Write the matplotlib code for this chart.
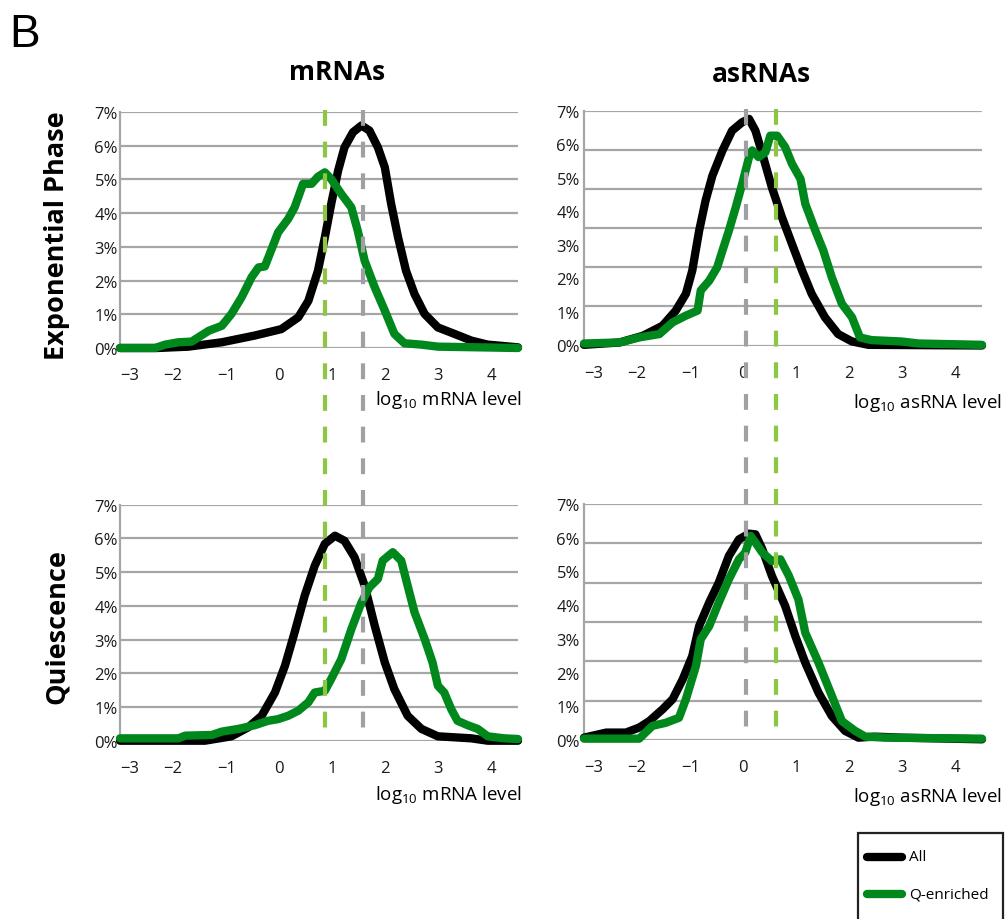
import matplotlib
matplotlib.use('Agg')
import matplotlib.pyplot as plt
from matplotlib.lines import Line2D
from matplotlib.patches import Rectangle
import numpy as np

plt.rcParams['font.family'] = ['Open Sans', 'DejaVu Sans']
plt.rcParams['mathtext.fontset'] = 'custom'
plt.rcParams['mathtext.rm'] = 'Open Sans'
plt.rcParams['mathtext.it'] = 'Open Sans:italic'
plt.rcParams['mathtext.bf'] = 'Open Sans:bold'

# --- data (percent of transcripts vs log10 level) ---
# exponential phase, mRNAs
exp_mrna_x_all = [-3.0, -2.3, -1.71, -1.08, -0.46, 0.04, 0.36, 0.55, 0.73, 0.86, 0.98, 1.11, 1.23, 1.39,
                  1.55, 1.70, 1.86, 1.99, 2.11, 2.24, 2.39, 2.55, 2.74, 2.99, 3.30, 3.62, 3.93, 4.5]
exp_mrna_y_all = [0.0, 0.0, 0.04, 0.17, 0.37, 0.56, 0.91, 1.40, 2.29, 3.28, 4.27, 5.26, 5.95, 6.40,
                  6.60, 6.45, 5.95, 5.36, 4.27, 3.28, 2.29, 1.60, 1.01, 0.61, 0.42, 0.22, 0.10, 0.02]
exp_mrna_x_q = [-3.0, -2.34, -2.15, -1.90, -1.65, -1.33, -1.08, -0.90, -0.71, -0.52, -0.39, -0.27, -0.02,
                0.17, 0.29, 0.45, 0.61, 0.73, 0.86, 0.98, 1.17, 1.36, 1.48, 1.61, 1.80, 1.99, 2.17, 2.36,
                2.68, 2.99, 4.5]
exp_mrna_y_q = [0.0, 0.0, 0.10, 0.17, 0.19, 0.51, 0.66, 1.01, 1.50, 2.10, 2.39, 2.42, 3.43,
                3.83, 4.17, 4.87, 4.87, 5.08, 5.21, 5.01, 4.57, 4.17, 3.48, 2.59, 1.80, 1.11, 0.42, 0.14,
                0.10, 0.04, 0.0]

# exponential phase, asRNAs
exp_as_x_all = [-3.0, -2.33, -1.89, -1.52, -1.27, -1.08, -0.96, -0.83, -0.71, -0.58, -0.39, -0.21, -0.02,
                0.11, 0.23, 0.36, 0.54, 0.73, 0.92, 1.11, 1.29, 1.54, 1.79, 2.05, 2.36, 4.5]
exp_as_y_all = [0.02, 0.09, 0.29, 0.59, 1.04, 1.54, 2.23, 3.42, 4.31, 5.06, 5.81, 6.40, 6.65,
                6.75, 6.40, 5.71, 4.71, 3.82, 3.02, 2.23, 1.54, 0.84, 0.34, 0.12, 0.02, 0.0]
exp_as_x_q = [-3.0, -2.33, -1.96, -1.58, -1.33, -1.08, -0.86, -0.80, -0.64, -0.49, -0.39, -0.27, -0.14,
              -0.02, 0.11, 0.17, 0.29, 0.42, 0.51, 0.64, 0.79, 0.92, 1.08, 1.17, 1.36, 1.51, 1.67, 1.86,
              2.05, 2.20, 2.42, 2.98, 3.30, 4.5]
exp_as_y_q = [0.06, 0.09, 0.24, 0.34, 0.69, 0.89, 1.04, 1.64, 1.93, 2.33, 2.83, 3.42, 4.12,
              4.81, 5.61, 5.81, 5.61, 5.76, 6.25, 6.25, 5.91, 5.41, 4.96, 4.22, 3.42, 2.83, 2.03, 1.24,
              0.84, 0.24, 0.16, 0.12, 0.06, 0.02]

# quiescence, mRNAs
q_mrna_x_all = [-3.0, -1.40, -0.90, -0.58, -0.33, -0.08, 0.11, 0.29, 0.48, 0.67, 0.86, 1.05, 1.23, 1.42,
                1.61, 1.80, 1.99, 2.17, 2.42, 2.68, 2.99, 3.62, 3.93, 4.5]
q_mrna_y_all = [0.0, 0.0, 0.13, 0.40, 0.74, 1.43, 2.23, 3.21, 4.30, 5.19, 5.84, 6.08, 5.93, 5.44,
                4.60, 3.41, 2.32, 1.53, 0.74, 0.35, 0.13, 0.07, 0.0, 0.0]
q_mrna_x_q = [-3.0, -1.90, -1.77, -1.27, -1.08, -0.77, -0.46, -0.21, -0.02, 0.17, 0.36, 0.55, 0.67, 0.86,
              0.98, 1.17, 1.36, 1.55, 1.70, 1.86, 1.95, 2.14, 2.30, 2.42, 2.55, 2.74, 2.89, 2.99, 3.11,
              3.24, 3.36, 3.55, 3.74, 3.93, 4.24, 4.5]
q_mrna_y_q = [0.07, 0.07, 0.15, 0.17, 0.27, 0.35, 0.46, 0.59, 0.64, 0.74, 0.89, 1.14, 1.43, 1.48,
              1.83, 2.42, 3.31, 4.10, 4.55, 4.80, 5.34, 5.59, 5.34, 4.60, 3.81, 3.02, 2.32, 1.63, 1.43,
              0.94, 0.59, 0.46, 0.35, 0.13, 0.07, 0.05]

# quiescence, asRNAs
q_as_x_all = [-3.0, -2.58, -2.21, -1.96, -1.77, -1.52, -1.33, -1.14, -0.96, -0.83, -0.64, -0.46, -0.27,
              -0.08, 0.11, 0.23, 0.36, 0.54, 0.79, 0.98, 1.17, 1.42, 1.67, 1.92, 2.17, 2.48, 2.98, 4.5]
q_as_y_all = [0.07, 0.22, 0.22, 0.37, 0.56, 0.91, 1.21, 1.80, 2.49, 3.38, 4.08, 4.67, 5.46,
              5.95, 6.12, 6.10, 5.66, 4.87, 3.98, 3.09, 2.29, 1.40, 0.71, 0.27, 0.07, 0.10, 0.07, 0.02]
q_as_x_q = [-3.0, -1.96, -1.71, -1.46, -1.21, -1.08, -0.89, -0.80, -0.64, -0.46, -0.27, -0.08, 0.04,
            0.14, 0.23, 0.36, 0.54, 0.70, 0.86, 1.04, 1.17, 1.42, 1.67, 1.86, 2.11, 2.30, 2.67, 4.5]
q_as_y_q = [0.04, 0.04, 0.42, 0.51, 0.66, 1.21, 2.20, 2.99, 3.38, 4.08, 4.77, 5.36, 5.56,
            6.05, 5.86, 5.56, 5.31, 5.36, 4.87, 4.17, 3.18, 2.29, 1.31, 0.56, 0.27, 0.10, 0.07, 0.04]

# medians (dashed lines)
median_mrna_all, median_mrna_q = 1.58, 0.86
median_as_all, median_as_q = 0.05, 0.61

x_ticks = [-3, -2, -1, 0, 1, 2, 3, 4]
y_ticks = [0, 1, 2, 3, 4, 5, 6, 7]
y_labels = ['%d%%' % v for v in y_ticks]

GRID = '#A6A6A6'
GREEN = '#00881C'
GRAY_DASH = '#A0A0A4'
GREEN_DASH = '#8DC641'
LW = 6

W, H = 1006, 920


def fx(px):
    return px / W


def fy(py):
    return 1 - py / H


fig = plt.figure(figsize=(W / 100, H / 100), dpi=100)


def panel(left, top, bottom, xa, ya, xq, yq, n_grid, ypad):
    ax = fig.add_axes([fx(left), fy(bottom), 398 / W, (bottom - top) / H])
    ax.set_xlim(-3, 4.5)
    ax.set_ylim(0, 7)
    for g in np.linspace(0, 7, n_grid):
        ax.axhline(g, color=GRID, lw=1.6, zorder=1)
    ax.plot(xa, ya, color='black', lw=LW, solid_capstyle='round', solid_joinstyle='round',
            clip_on=False, zorder=3)
    ax.plot(xq, yq, color=GREEN, lw=LW, solid_capstyle='round', solid_joinstyle='round',
            clip_on=False, zorder=4)
    for s in ['top', 'right', 'bottom']:
        ax.spines[s].set_visible(False)
    ax.spines['left'].set_color(GRID)
    ax.spines['left'].set_linewidth(1.6)
    ax.set_xticks(x_ticks)
    ax.set_yticks(y_ticks)
    ax.set_yticklabels(y_labels)
    ax.tick_params(length=0, labelsize=12, colors='#1a1a1a')
    ax.tick_params(axis='x', pad=14)
    ax.tick_params(axis='y', pad=ypad)
    ax.xaxis.get_major_ticks()[0].label1.set_horizontalalignment('left')
    return ax


ax_tl = panel(120, 113, 349, exp_mrna_x_all, exp_mrna_y_all, exp_mrna_x_q, exp_mrna_y_q, 8, 1.5)
ax_tr = panel(584, 111.5, 346.5, exp_as_x_all, exp_as_y_all, exp_as_x_q, exp_as_y_q, 7, 3)
ax_bl = panel(120, 505.7, 741.7, q_mrna_x_all, q_mrna_y_all, q_mrna_x_q, q_mrna_y_q, 8, 1.5)
ax_br = panel(584, 505, 741, q_as_x_all, q_as_y_all, q_as_x_q, q_as_y_q, 7, 3)


def median_line(ax_top, ax_bot, xval, color):
    inv = fig.transFigure.inverted()
    x0, y0 = inv.transform(ax_top.transData.transform((xval, 7.05)))
    x1, y1 = inv.transform(ax_bot.transData.transform((xval, 0)))
    fig.add_artist(Line2D([x0, x1], [y0, y1], transform=fig.transFigure, color=color, lw=3,
                          dashes=(3.8, 3.8), dash_capstyle='butt', zorder=5))


median_line(ax_tl, ax_bl, median_mrna_all, GRAY_DASH)
median_line(ax_tl, ax_bl, median_mrna_q, GREEN_DASH)
median_line(ax_tr, ax_br, median_as_all, GRAY_DASH)
median_line(ax_tr, ax_br, median_as_q, GREEN_DASH)

# texts
fig.text(fx(9), fy(47), 'B', fontsize=33, family='Liberation Sans', ha='left', va='baseline')
fig.text(fx(337), fy(80), 'mRNAs', fontsize=19, fontweight='bold', ha='center', va='baseline')
fig.text(fx(761), fy(82), 'asRNAs', fontsize=19, fontweight='bold', ha='center', va='baseline')
fig.text(fx(57), fy(236), 'Exponential Phase', fontsize=19.5, fontweight='bold', rotation=90,
         ha='center', va='center')
fig.text(fx(57), fy(627), 'Quiescence', fontsize=19.5, fontweight='bold', rotation=90,
         ha='center', va='center')
fig.text(fx(522), fy(405), 'log$_{10}$ mRNA level', fontsize=13.5, ha='right', va='baseline')
fig.text(fx(1002), fy(408), 'log$_{10}$ asRNA level', fontsize=13.5, ha='right', va='baseline')
fig.text(fx(522), fy(800), 'log$_{10}$ mRNA level', fontsize=13.5, ha='right', va='baseline')
fig.text(fx(1002), fy(802), 'log$_{10}$ asRNA level', fontsize=13.5, ha='right', va='baseline')

# legend box
fig.add_artist(Rectangle((fx(858), fy(925)), (1003 - 858) / W, (925 - 834) / H,
                         transform=fig.transFigure, fill=False, edgecolor='#222222', lw=1.6))
for name, col, py in [('All', 'black', 858), ('Q-enriched', GREEN, 895)]:
    fig.add_artist(Line2D([fx(867), fx(902)], [fy(py), fy(py)], transform=fig.transFigure,
                          color=col, lw=LW, solid_capstyle='round'))
    fig.text(fx(909), fy(py), name, fontsize=11, ha='left', va='center')

fig.savefig('out.png', dpi=100)
